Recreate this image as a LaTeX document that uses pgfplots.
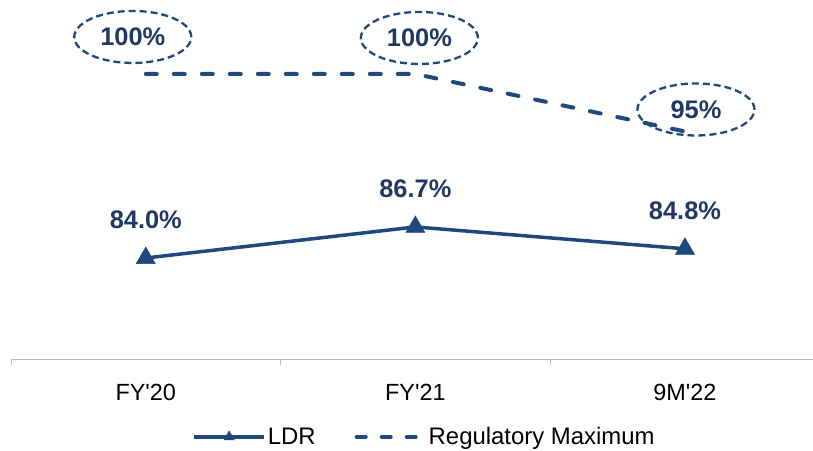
\documentclass[border=0pt]{standalone}
\usepackage{pgfplots}
\pgfplotsset{compat=1.18}
\usepackage{fontspec}
\setmainfont{Liberation Sans}[Ligatures=TeXOff]
\usetikzlibrary{shapes.geometric}
\definecolor{ldr}{HTML}{1F497D}
\definecolor{lbl}{HTML}{1F3864}
\pgfplotsset{
  ldrlegend/.style={legend image code/.code={\draw[##1,mark size=6bp,mark repeat=2,mark phase=2] plot coordinates {(0bp,0bp) (35bp,0bp) (70bp,0bp)};}},
  reglegend/.style={legend image code/.code={\draw[##1,dash pattern=on 9bp off 16bp] (2bp,0bp) -- (70bp,0bp);}}
}
\begin{document}
\begin{tikzpicture}
\begin{axis}[
 at={(0,0)}, anchor=south west,
 scale only axis, width=802bp, height=359bp,
 xmin=-0.5, xmax=2.475, ymin=75.22, ymax=106.43,
 axis x line*=bottom, axis y line=none,
 x axis line style={draw=gray!55, line width=1bp, -},
 xtick={0,1,2}, xticklabels={FY'20,FY'21,9M'22},
 major x tick style={draw=none},
 minor xtick={-0.5,0.5,1.5},
 minor tick length=6bp, tick align=outside,
 minor x tick style={draw=gray!55, line width=1bp},
 xticklabel style={font=\fontsize{23.5}{28}\selectfont, anchor=center, yshift=-29bp, text=black},
 clip=false,
 legend columns=2,
 legend style={at={(axis description cs:0.5156,-0.2172)}, anchor=center, draw=none, fill=none,
   font=\fontsize{24}{28}\selectfont, text=black,
   /tikz/every even column/.append style={column sep=37bp}},
]
\addplot[color=ldr, line width=3.5bp, mark=triangle*, mark size=11bp,
  mark options={solid,fill=ldr,line width=0.5bp},
  nodes near coords, point meta=explicit symbolic,
  every node near coord/.append style={font=\bfseries\fontsize{25.5}{30}\selectfont, text=lbl, anchor=center, yshift=38bp},
  ldrlegend]
 coordinates {(0,84.0) [84.0\%] (1,86.7) [86.7\%] (2,84.8) [84.8\%]};
\addlegendentry{LDR}
\addplot[color=ldr, line width=4bp, line cap=round, dash pattern=on 11bp off 17bp, reglegend]
 coordinates {(0,100) (1,100) (2,95)};
\addlegendentry{Regulatory Maximum}
\tikzset{lab/.style={ellipse, draw=ldr, line width=2.3bp, dash pattern=on 7bp off 4bp,
  minimum width=117bp, minimum height=52bp, inner sep=0pt, text=lbl,
  font=\bfseries\fontsize{25.5}{30}\selectfont}}
\node[lab] at ([xshift=-13bp,yshift=37bp]axis cs:0,100) {100\%};
\node[lab] at ([xshift=4bp,yshift=36bp]axis cs:1,100) {100\%};
\node[lab] at ([xshift=11bp,yshift=22bp]axis cs:2,95) {95\%};
\end{axis}
\pgfresetboundingbox
\path[use as bounding box] (-11bp,-92bp) rectangle (802bp,359bp);
\end{tikzpicture}
\end{document}
